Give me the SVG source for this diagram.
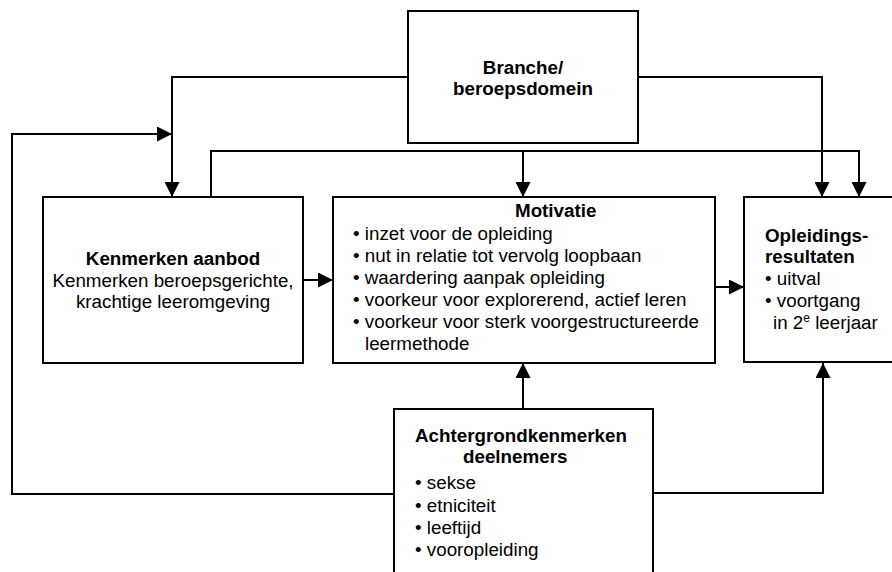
<svg xmlns="http://www.w3.org/2000/svg" width="892" height="572" viewBox="0 0 892 572">
<style>
.box{fill:#fff;stroke:#000;stroke-width:2}
.c{fill:none;stroke:#000;stroke-width:2}
text{font-family:"Liberation Sans",Arial,sans-serif;font-size:18.8px;fill:#000}
.b{font-weight:bold}
.m{text-anchor:middle}
</style>
<defs>
<marker id="ah" markerUnits="userSpaceOnUse" markerWidth="15" markerHeight="15" refX="15" refY="7.5" orient="auto">
<path d="M0,0 L15,7.5 L0,15 z" fill="#000"/>
</marker>
</defs>
<rect width="892" height="572" fill="#fff"/>
<g id="connectors">
<polyline class="c" points="408,77 172,77 172,197" marker-end="url(#ah)"/>
<polyline class="c" points="638,77 822,77 822,197" marker-end="url(#ah)"/>
<polyline class="c" points="211,197 211,151 859,151 859,197" marker-end="url(#ah)"/>
<line class="c" x1="523" y1="151" x2="523" y2="197" marker-end="url(#ah)"/>
<line class="c" x1="303" y1="280" x2="333" y2="280" marker-end="url(#ah)"/>
<line class="c" x1="715" y1="287" x2="744" y2="287" marker-end="url(#ah)"/>
<line class="c" x1="523" y1="409" x2="523" y2="363" marker-end="url(#ah)"/>
<polyline class="c" points="653,493 823,493 823,363" marker-end="url(#ah)"/>
<polyline class="c" points="394,494 12,494 12,134 172,134" marker-end="url(#ah)"/>
</g>
<g id="branche">
<rect class="box" x="408" y="11" width="230" height="132"/>
<text class="b m" x="523" y="74">Branche/</text>
<text class="b m" x="523" y="95">beroepsdomein</text>
</g>
<g id="kenmerken">
<rect class="box" x="43" y="197" width="260" height="166"/>
<text class="b m" x="173" y="265">Kenmerken aanbod</text>
<text class="m" x="173" y="287">Kenmerken beroepsgerichte,</text>
<text class="m" x="173" y="308">krachtige leeromgeving</text>
</g>
<g id="motivatie">
<rect class="box" x="333" y="197" width="382" height="166"/>
<text class="b" x="515" y="217">Motivatie</text>
<text x="353" y="240">• inzet voor de opleiding</text>
<text x="353" y="262">• nut in relatie tot vervolg loopbaan</text>
<text x="353" y="284">• waardering aanpak opleiding</text>
<text x="353" y="306">• voorkeur voor explorerend, actief leren</text>
<text x="353" y="328">• voorkeur voor sterk voorgestructureerde</text>
<text x="365" y="350">leermethode</text>
</g>
<g id="opleidingsresultaten">
<rect class="box" x="744" y="197" width="160" height="165"/>
<text class="b" x="765" y="242">Opleidings-</text>
<text class="b" x="765" y="263">resultaten</text>
<text x="765" y="285">• uitval</text>
<text x="765" y="307">• voortgang</text>
<text x="773" y="329">in 2<tspan font-size="12" dy="-7">e</tspan><tspan dy="7"> leerjaar</tspan></text>
</g>
<g id="achtergrond">
<rect class="box" x="394" y="409" width="259" height="175"/>
<text class="b" x="415" y="442">Achtergrondkenmerken</text>
<text class="b" x="463" y="463">deelnemers</text>
<text x="415" y="489">• sekse</text>
<text x="415" y="512">• etniciteit</text>
<text x="415" y="534">• leeftijd</text>
<text x="415" y="556">• vooropleiding</text>
</g>
</svg>
